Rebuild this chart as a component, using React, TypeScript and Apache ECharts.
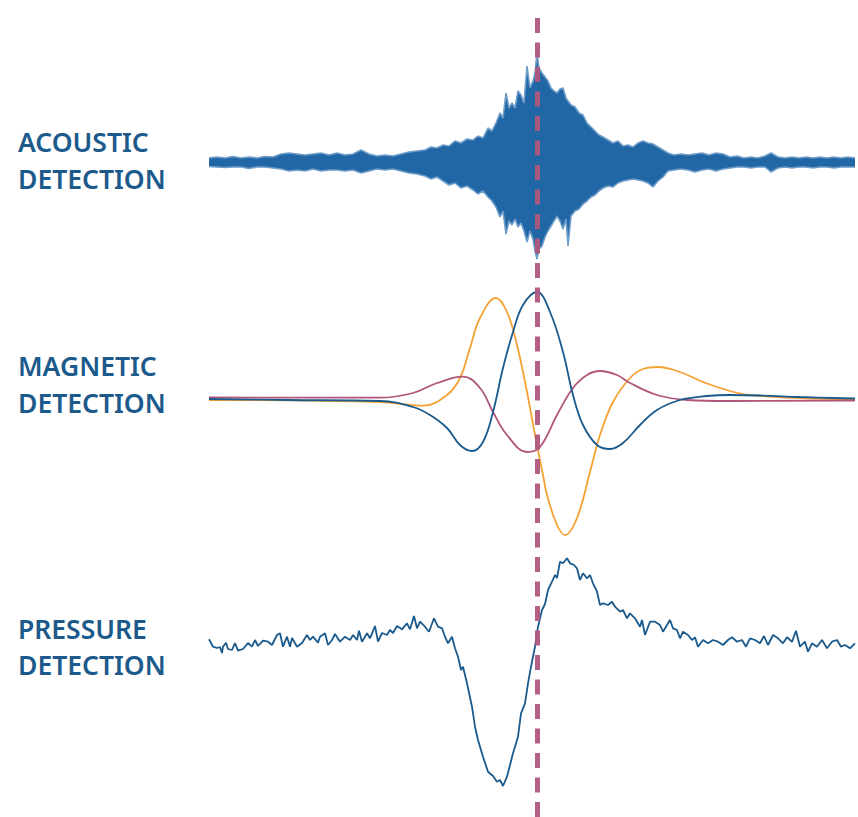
import React, { useEffect, useRef } from "react";
import * as echarts from "echarts";

// Panel labels (two lines each)
const panelLabels: string[][] = [
  ["ACOUSTIC", "DETECTION"],
  ["MAGNETIC", "DETECTION"],
  ["PRESSURE", "DETECTION"],
];

// Time of the detection event (dashed line)
const eventTime = 0;

// Acoustic signal envelope: [time, upper, lower]
const acousticEnvelope: number[][] = [
  [-328,0.4,-0.45],[-320,0.5,-0.5],[-312,0.4,-0.55],[-304,0.55,-0.5],[-296,0.4,-0.5],[-288,0.5,-0.65],[-280,0.4,-0.5],[-272,0.55,-0.5],[-264,0.5,-0.6],[-256,0.8,-0.7],[-248,0.9,-0.9],[-240,0.8,-0.8],[-232,0.7,-0.9],[-224,0.8,-0.7],[-216,0.9,-0.9],[-208,0.7,-0.8],[-200,0.9,-0.8],[-192,0.7,-0.9],[-184,0.8,-0.8],[-176,1.2,-1.1],[-168,0.8,-0.9],[-160,0.6,-0.7],[-152,0.7,-0.8],[-144,0.6,-0.7],[-136,0.8,-0.9],[-128,1.0,-1.1],[-120,1.1,-1.2],[-112,1.2,-1.4],[-106,1.5,-1.7],[-100,1.4,-1.5],[-94,1.7,-1.9],[-88,1.6,-2.3],[-82,2.1,-2.1],[-76,1.9,-2.6],[-70,2.3,-2.4],[-64,2.2,-2.8],[-59,2.6,-3.2],[-54,2.4,-2.9],[-49,3.4,-3.5],[-45,3.1,-3.9],[-41,3.9,-4.5],[-37,4.9,-5.5],[-34,4.4,-4.9],[-31,6.9,-7.2],[-28,5.4,-5.9],[-25,5.9,-6.3],[-22,5.4,-5.7],[-19,7.1,-6.5],[-16,6.7,-6.1],[-13,5.9,-6.9],[-10,9.6,-8.0],[-7,7.4,-6.9],[-4,8.1,-7.7],[-2,8.9,-8.9],[0,10.9,-9.7],[2,9.4,-8.7],[5,8.9,-8.4],[8,8.5,-7.5],[11,8.1,-6.9],[14,7.4,-6.4],[17,7.1,-5.9],[20,6.9,-5.4],[23,7.3,-5.9],[26,7.4,-6.7],[29,6.4,-5.7],[31,6.1,-8.4],[34,5.7,-5.4],[38,5.5,-4.9],[42,4.9,-4.7],[46,4.7,-4.2],[50,3.9,-3.9],[54,3.5,-3.5],[58,3.1,-3.3],[62,2.7,-2.9],[66,2.5,-2.6],[71,2.2,-2.4],[76,1.9,-2.5],[81,2.1,-2.1],[86,1.6,-1.9],[91,1.7,-1.8],[96,1.5,-1.7],[101,1.9,-1.8],[106,2.1,-1.9],[111,1.9,-2.1],[116,1.8,-2.5],[121,1.5,-1.9],[126,1.2,-1.5],[131,0.9,-0.9],[137,0.7,-0.8],[144,0.8,-0.7],[151,0.7,-0.8],[158,0.8,-1.0],[165,0.9,-0.8],[172,0.7,-0.7],[179,0.9,-0.9],[186,0.8,-0.7],[193,0.5,-0.6],[200,0.6,-0.5],[207,0.4,-0.5],[214,0.5,-0.6],[221,0.4,-0.5],[228,0.6,-0.5],[234,0.9,-1.0],[241,0.5,-0.6],[248,0.4,-0.5],[255,0.5,-0.6],[262,0.4,-0.5],[269,0.5,-0.5],[276,0.4,-0.6],[283,0.5,-0.5],[290,0.4,-0.5],[297,0.5,-0.6],[304,0.4,-0.5],[311,0.5,-0.5],[318,0.4,-0.5],
];

// Magnetic components: [time, value]
const magneticBlue: number[][] = [
  [-328,0.0],[-250,-0.1],[-157,-0.2],[-124,-0.8],[-107,-1.6],[-90,-2.9],[-77,-4.6],[-65,-5.2],[-54,-4.3],[-44,-1.3],[-34,3.1],[-24,6.7],[-14,9.4],[0,10.7],[13,8.7],[26,4.7],[36,0.4],[46,-2.6],[60,-4.6],[73,-5.0],[86,-4.4],[103,-2.6],[120,-1.1],[143,-0.1],[170,0.3],[193,0.4],[223,0.35],[263,0.2],[318,0.05],
];
const magneticOrange: number[][] = [
  [-328,-0.1],[-157,-0.3],[-114,-0.67],[-90,0.4],[-77,2.1],[-67,5.1],[-57,8.1],[-41,10.1],[-30,8.7],[-20,5.4],[-10,0.7],[-2,-3.6],[6,-7.6],[10,-9.6],[20,-12.6],[28,-13.6],[40,-11.9],[53,-7.3],[63,-3.6],[76,-0.3],[93,2.1],[106,3.0],[121,3.2],[143,2.7],[166,1.7],[193,0.8],[213,0.4],[263,0.1],[318,0.0],
];
const magneticMauve: number[][] = [
  [-328,0.15],[-157,0.13],[-124,0.6],[-100,1.6],[-74,2.23],[-57,1.1],[-44,-1.3],[-30,-3.6],[-10,-5.3],[3,-4.8],[20,-1.6],[36,1.1],[50,2.4],[63,2.8],[80,2.4],[93,1.6],[120,0.4],[150,-0.1],[193,-0.2],[318,-0.15],
];

// Pressure signal: [time, value]
const pressureSignal: number[][] = [
  [-328,0.57],[-324,-0.17],[-320,-0.3],[-317,-0.2],[-315,-0.8],[-314,-0.17],[-311,0.23],[-309,-0.4],[-305,-0.5],[-302,0.2],[-299,-0.57],[-294,-0.4],[-289,0.2],[-285,-0.17],[-282,0.5],[-279,-0.1],[-274,0.43],[-269,0.33],[-265,0.0],[-260,1.0],[-257,1.17],[-254,-0.17],[-250,0.83],[-247,-0.17],[-245,0.7],[-240,-0.17],[-235,0.2],[-230,1.0],[-227,0.5],[-224,0.83],[-219,0.23],[-217,0.83],[-212,1.17],[-209,0.0],[-205,0.5],[-202,1.1],[-197,0.33],[-192,0.83],[-187,0.5],[-184,1.0],[-180,0.5],[-178,1.43],[-175,0.33],[-170,1.17],[-167,0.67],[-162,1.9],[-159,0.33],[-155,1.2],[-150,1.0],[-147,1.5],[-144,1.2],[-140,1.9],[-135,1.57],[-130,2.17],[-127,1.57],[-123,2.9],[-120,1.67],[-117,2.33],[-112,1.83],[-108,1.33],[-103,2.67],[-99,1.83],[-95,1.67],[-92,0.83],[-89,0.17],[-85,0.83],[-82,-0.33],[-79,-1.17],[-76,-2.5],[-74,-2.17],[-70,-3.83],[-65,-6.17],[-62,-8.17],[-59,-9.5],[-54,-11.17],[-49,-12.67],[-44,-13.1],[-40,-13.67],[-37,-13.5],[-34,-14.1],[-30,-13.17],[-27,-12.0],[-24,-10.83],[-19,-9.17],[-16,-6.83],[-12,-5.83],[-9,-3.83],[-6,-2.17],[-2,-0.17],[1,1.83],[5,3.5],[8,4.1],[11,5.5],[15,6.33],[18,7.0],[20,6.7],[23,8.33],[26,8.17],[30,8.67],[33,8.17],[37,8.0],[40,7.67],[43,6.5],[46,7.17],[50,6.67],[53,7.0],[56,6.17],[60,5.33],[63,4.0],[66,4.17],[71,4.0],[75,4.33],[78,3.83],[83,3.33],[86,3.5],[90,2.67],[93,3.17],[98,2.67],[103,1.83],[105,2.5],[108,1.0],[113,2.33],[118,2.33],[123,2.0],[126,1.33],[130,2.0],[133,2.5],[136,1.67],[140,1.5],[143,0.67],[146,1.33],[151,1.0],[155,0.5],[158,0.77],[161,-0.17],[166,0.5],[171,0.17],[176,0.5],[181,0.33],[186,0.0],[191,0.5],[195,0.77],[200,0.33],[205,0.5],[209,-0.17],[213,0.67],[218,0.5],[223,0.17],[227,0.9],[231,0.0],[236,1.0],[241,0.67],[246,0.17],[250,0.77],[255,0.33],[259,1.43],[263,-0.17],[268,0.33],[271,-0.67],[275,0.17],[280,-0.17],[285,0.5],[290,-0.33],[295,0.33],[300,0.5],[304,-0.17],[308,0.0],[313,-0.33],[318,0.17],
];

const TIME_MIN = -328;
const TIME_MAX = 318;

const BLUE = "#1a5a8c";
const ACOUSTIC_BLUE = "#2166a5";
const ACOUSTIC_EDGE = "#6e9dc9";
const ORANGE = "#f4a233";
const MAUVE = "#b0567c";
const LABEL_COLOR = "#1b5a8a";

function hiddenAxis(extra: any) {
  return {
    show: false,
    splitLine: { show: false },
    axisLine: { show: false },
    axisTick: { show: false },
    axisLabel: { show: false },
    ...extra,
  };
}

export default function App() {
  const ref = useRef<HTMLDivElement>(null);

  useEffect(() => {
    if (!ref.current) return;
    const chart = echarts.init(ref.current, undefined, { renderer: "svg" });

    const labelCenters = [
      [140, 177],
      [364, 401],
      [627, 663],
    ];
    const graphics: any[] = [];
    panelLabels.forEach((lines, i) => {
      lines.forEach((line, j) => {
        graphics.push({
          type: "text",
          x: 18,
          y: labelCenters[i][j] + 1.5,
          style: {
            text: line,
            fill: LABEL_COLOR,
            font: '600 26.5px "Noto Sans"',
            verticalAlign: "middle",
            align: "left",
          },
        });
      });
    });

    const acousticSeries = (name: string, idx: number, origin: number) => ({
      name,
      type: "line",
      xAxisIndex: 0,
      yAxisIndex: 0,
      data: acousticEnvelope.map((d) => [d[0], d[idx]]),
      showSymbol: false,
      lineStyle: { width: 1.6, color: ACOUSTIC_EDGE },
      areaStyle: { color: ACOUSTIC_BLUE, opacity: 1, origin },
      z: 2,
    });

    const option: any = {
      animation: false,
      backgroundColor: "#ffffff",
      grid: [
        { left: 209, right: 3, top: 40, height: 240 },
        { left: 209, right: 3, top: 280, height: 270 },
        { left: 209, right: 3, top: 540, height: 260 },
        { left: 209, right: 3, top: 14, bottom: 0 },
      ],
      xAxis: [0, 1, 2, 3].map((g) =>
        hiddenAxis({ type: "value", gridIndex: g, min: TIME_MIN, max: TIME_MAX })
      ),
      yAxis: [
        hiddenAxis({ type: "value", gridIndex: 0, min: -11.8, max: 12.2 }),
        hiddenAxis({ type: "value", gridIndex: 1, min: -15.1, max: 11.9 }),
        hiddenAxis({ type: "value", gridIndex: 2, min: -15.5, max: 10.5 }),
        hiddenAxis({ type: "value", gridIndex: 3, min: 0, max: 1 }),
      ],
      graphic: graphics,
      series: [
        acousticSeries("acoustic-upper", 1, -0.3),
        acousticSeries("acoustic-lower", 2, 0.3),
        {
          name: "magnetic-orange",
          type: "line",
          xAxisIndex: 1,
          yAxisIndex: 1,
          data: magneticOrange,
          smooth: 0.4,
          showSymbol: false,
          lineStyle: { width: 1.8, color: ORANGE },
          z: 3,
        },
        {
          name: "magnetic-mauve",
          type: "line",
          xAxisIndex: 1,
          yAxisIndex: 1,
          data: magneticMauve,
          smooth: 0.4,
          showSymbol: false,
          lineStyle: { width: 1.8, color: MAUVE },
          z: 3,
        },
        {
          name: "magnetic-blue",
          type: "line",
          xAxisIndex: 1,
          yAxisIndex: 1,
          data: magneticBlue,
          smooth: 0.4,
          showSymbol: false,
          lineStyle: { width: 1.8, color: BLUE },
          z: 4,
        },
        {
          name: "pressure",
          type: "line",
          xAxisIndex: 2,
          yAxisIndex: 2,
          data: pressureSignal,
          showSymbol: false,
          lineStyle: { width: 1.8, color: BLUE },
          z: 3,
        },
        {
          name: "event",
          type: "line",
          xAxisIndex: 3,
          yAxisIndex: 3,
          data: [],
          z: 10,
          markLine: {
            silent: true,
            symbol: ["none", "none"],
            label: { show: false },
            lineStyle: { color: MAUVE, width: 5, type: [15, 9.5], opacity: 0.95 },
            data: [{ xAxis: eventTime }],
          },
        },
      ],
    };

    chart.setOption(option);
    return () => chart.dispose();
  }, []);

  return (
    <div
      ref={ref}
      style={{ position: "fixed", left: 0, top: 0, width: 858, height: 817 }}
    />
  );
}
